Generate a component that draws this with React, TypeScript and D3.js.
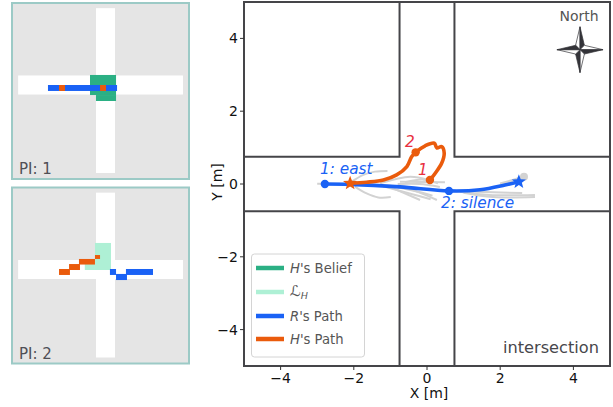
import React from "react";
import * as d3 from "d3";

type P = [number, number];
type R = [number, number, number, number];

const xTicks = [-4, -2, 0, 2, 4];
const yTicks = [-4, -2, 0, 2, 4];
const roadHalf = 0.75;

const robotPath: P[] = [[-2.79, 0], [-2.1, -0.01], [-0.74, -0.08], [0.6, -0.19], [1.45, -0.16], [2.13, -0.03], [2.51, 0.06]];
const robotDots: P[] = [[-2.79, 0], [0.6, -0.19]];
const humanPath: P[] = [[-2.1, 0.02], [-1.65, 0.05], [-1.19, 0.11], [-0.83, 0.25], [-0.55, 0.48], [-0.42, 0.75], [-0.31, 0.87], [-0.05, 1.05], [0.2, 1.12], [0.27, 0.99], [0.4, 1.03], [0.47, 0.85], [0.4, 0.57], [0.22, 0.29], [0.08, 0.11]];
const humanDots: P[] = [[-0.31, 0.87], [0.08, 0.11]];
const greyPaths: P[][] = [
  [[-2.06, 0.06], [-1.74, 0.25], [-1.42, 0.34], [-1.08, 0.36]],
  [[-1.97, -0.07], [-1.65, -0.26], [-1.33, -0.37], [-0.99, -0.36]],
  [[-3.0, 0.01], [-2.1, 0]],
  [[-1.37, -0.03], [-0.55, -0.12], [0.27, -0.44]],
  [[-0.74, 0.06], [0.49, 0.05]],
  [[-0.92, -0.12], [-0.19, -0.44]],
  [[-1.28, 0.02], [-0.46, 0.2], [0.03, 0.11]],
  [[-1.0, -0.05], [-0.3, -0.2], [0.15, -0.32]],
  [[-0.8, 0.0], [-0.2, 0.0], [0.35, -0.08]],
  [[-1.2, -0.06], [-0.4, -0.28], [0.1, -0.42]],
  [[-0.6, 0.05], [-0.1, 0.12], [0.3, 0.02]],
  [[0.9, -0.21], [1.7, -0.3], [2.95, -0.3]],
  [[1.0, -0.24], [1.8, -0.36], [2.95, -0.36]],
  [[0.7, -0.2], [1.6, -0.22], [2.6, -0.25]],
];
const greyEnd: P[] = [[2.0, 0.0], [2.35, 0.1], [2.65, 0.2]];

const panel1Belief: R[] = [[-1.22, 0.83, -0.79, 0.79], [-0.75, 0.83, -1.26, -0.79]];
const panel1Robot: R[] = [[-4.53, 0.91, -0.47, 0]];
const panel1Human: R[] = [[-3.66, -3.19, -0.47, 0], [-0.43, 0.04, -0.47, 0]];
const panel2Level: R[] = [[-0.83, 0.43, -0.04, 2.09], [-1.63, -0.83, -0.04, 0.43]];
const panel2Human: R[] = [[-3.66, -2.8, -0.43, 0.04], [-2.87, -2.01, -0.04, 0.43], [-2.09, -0.83, 0.39, 0.83], [-0.83, -0.43, 0.83, 1.14]];
const panel2Robot: R[] = [[0.35, 0.83, -0.43, 0.04], [0.83, 1.69, -0.83, -0.35], [1.61, 3.74, -0.43, 0.04]];

const GREEN = "#2bb084";
const MINT = "#aef0d5";
const BLUE = "#1a62f5";
const ORANGE = "#ea5b0c";
const RED = "#e8303f";
const DARK = "#454549";
const GREY = "#d2d2d2";
const FONT = "DejaVu Sans";

const x = d3.scaleLinear().domain([-5, 5]).range([244, 610]);
const y = d3.scaleLinear().domain([-5, 5]).range([366, 2]);
const line = d3.line<P>().x(d => x(d[0])).y(d => y(d[1])).curve(d3.curveCatmullRom.alpha(0.5));

const star = d3.line<P>().curve(d3.curveLinearClosed);
function starPath(c: P, r: number): string {
  const pts: P[] = d3.range(10).map(i => {
    const a = -Math.PI / 2 + (i * Math.PI) / 5;
    const rr = i % 2 ? r * 0.42 : r;
    return [x(c[0]) + rr * Math.cos(a), y(c[1]) + rr * Math.sin(a)];
  });
  return star(pts) as string;
}

const compassCentre: P = [4.18, 3.69];
const armLong = 0.63;
const armWaist = 0.12;
const compassDirs: P[] = [[0, 1], [1, 0], [0, -1], [-1, 0]];

function Compass() {
  const c = compassCentre;
  const poly = (pts: P[]) => star(pts.map(p => [x(p[0]), y(p[1])] as P)) as string;
  return (
    <g>
      {compassDirs.map((d, i) => {
        const tip: P = [c[0] + d[0] * armLong, c[1] + d[1] * armLong];
        const side = (s: number): P => [c[0] + (d[0] - s * d[1]) * armWaist, c[1] + (d[1] + s * d[0]) * armWaist];
        return (
          <g key={i}>
            <path d={poly([c, tip, side(1)])} fill="#fff" stroke="#333338" strokeWidth={0.7} />
            <path d={poly([c, tip, side(-1)])} fill="#333338" stroke="#333338" strokeWidth={0.7} />
          </g>
        );
      })}
    </g>
  );
}

function Panel({ top, label, under, over }: { top: number; label: string; under: { rects: R[]; color: string }[]; over: { rects: R[]; color: string }[] }) {
  const height = 176;
  const left = 12;
  const width = 177;
  const unit = 12.7;
  const px = d3.scaleLinear().domain([-1, 1]).range([105.5 - unit, 105.5 + unit]);
  const py = d3.scaleLinear().domain([-1, 1]).range([top + 82 + unit, top + 82 - unit]);
  const rect = (r: R, color: string, k: string) => (
    <rect key={k} x={px(r[0])} width={px(r[1]) - px(r[0])} y={py(r[3])} height={py(r[2]) - py(r[3])} fill={color} />
  );
  return (
    <g>
      <rect x={left} y={top} width={width} height={height} fill="#e5e5e5" stroke="#9ccac6" strokeWidth={2} />
      <rect x={px(-roadHalf)} width={px(roadHalf) - px(-roadHalf)} y={py(6.05)} height={py(-6.93) - py(6.05)} fill="#fff" />
      <rect x={px(-6.88)} width={px(6.1) - px(-6.88)} y={py(roadHalf)} height={py(-roadHalf) - py(roadHalf)} fill="#fff" />
      {under.map((s, i) => s.rects.map((r, j) => rect(r, s.color, `u${i}-${j}`)))}
      {over.map((s, i) => s.rects.map((r, j) => rect(r, s.color, `o${i}-${j}`)))}
      <text x={19} y={top + height - 5} fontFamily={FONT} fontSize={15} fill="#4f4f55">{label}</text>
    </g>
  );
}

const legendY = [268, 292, 316, 339];
const legendColors = [GREEN, MINT, BLUE, ORANGE];

export default function App() {
  const roadCorners: P[][] = [
    [[-5, roadHalf], [-roadHalf, roadHalf], [-roadHalf, 5]],
    [[5, roadHalf], [roadHalf, roadHalf], [roadHalf, 5]],
    [[-5, -roadHalf], [-roadHalf, -roadHalf], [-roadHalf, -5]],
    [[5, -roadHalf], [roadHalf, -roadHalf], [roadHalf, -5]],
  ];
  const straight = d3.line<P>().x(d => x(d[0])).y(d => y(d[1]));
  const tick = (t: number) => d3.format("")(t).replace("-", "\u2212");
  return (
    <svg width={613} height={407} style={{ position: "fixed", left: 0, top: 0 }} fontFamily={FONT}>
      <rect width={613} height={407} fill="#fff" />
      <Panel top={3} label="PI: 1" under={[{ rects: panel1Belief, color: GREEN }]} over={[{ rects: panel1Robot, color: BLUE }, { rects: panel1Human, color: ORANGE }]} />
      <Panel top={187.5} label="PI: 2" under={[{ rects: panel2Level, color: MINT }]} over={[{ rects: panel2Human, color: ORANGE }, { rects: panel2Robot, color: BLUE }]} />

      {roadCorners.map((c, i) => (
        <path key={i} d={straight(c) as string} fill="none" stroke={DARK} strokeWidth={2} />
      ))}
      {greyPaths.map((p, i) => (
        <path key={i} d={line(p) as string} fill="none" stroke={GREY} strokeWidth={2} />
      ))}
      <path d={line(greyEnd) as string} fill="none" stroke={GREY} strokeWidth={3} />
      <circle cx={x(greyEnd[2][0])} cy={y(greyEnd[2][1])} r={4} fill={GREY} />

      <path d={line(robotPath) as string} fill="none" stroke={BLUE} strokeWidth={3.6} />
      {robotDots.map((d, i) => <circle key={i} cx={x(d[0])} cy={y(d[1])} r={4.2} fill={BLUE} />)}
      <path d={starPath(robotPath[robotPath.length - 1], 7.5)} fill={BLUE} />
      <path d={line(humanPath) as string} fill="none" stroke={ORANGE} strokeWidth={3.6} />
      {humanDots.map((d, i) => <circle key={i} cx={x(d[0])} cy={y(d[1])} r={4.2} fill={ORANGE} />)}
      <path d={starPath(humanPath[0], 7.5)} fill={ORANGE} />

      <text x={320} y={174} fontSize={15.3} fontStyle="italic" fill={BLUE}>1: east</text>
      <text x={441} y={208} fontSize={15.3} fontStyle="italic" fill={BLUE}>2: silence</text>
      <text x={405} y={147} fontSize={15.3} fontStyle="italic" fill={RED}>2</text>
      <text x={418} y={175} fontSize={15.3} fontStyle="italic" fill={RED}>1</text>

      <rect x={244} y={2} width={366} height={364} fill="none" stroke={DARK} strokeWidth={2} />
      {xTicks.map(t => (
        <g key={t}>
          <line x1={x(t)} x2={x(t)} y1={366} y2={370} stroke="#333" strokeWidth={1} />
          <text x={x(t)} y={383} textAnchor="middle" fontSize={14} fill="#111">{tick(t)}</text>
        </g>
      ))}
      {yTicks.map(t => (
        <g key={t}>
          <line x1={240} x2={244} y1={y(t)} y2={y(t)} stroke="#333" strokeWidth={1} />
          <text x={238} y={y(t) + 5} textAnchor="end" fontSize={14} fill="#111">{tick(t)}</text>
        </g>
      ))}
      <text x={429} y={398} textAnchor="middle" fontSize={14} fill="#111">X [m]</text>
      <text transform="translate(222,182) rotate(-90)" textAnchor="middle" fontSize={14} fill="#111">Y [m]</text>

      <text x={579} y={21} textAnchor="middle" fontSize={14} fill="#555">North</text>
      <Compass />
      <text x={599} y={353} textAnchor="end" fontSize={16.2} fill="#47474b">intersection</text>

      <rect x={251.5} y={254} width={113} height={103} rx={3} fill="#fff" fillOpacity={0.85} stroke="#d4d4d4" strokeWidth={1} />
      {legendY.map((ly, i) => (
        <line key={i} x1={256} x2={284} y1={ly} y2={ly} stroke={legendColors[i]} strokeWidth={4.5} />
      ))}
      <g fontSize={13.2} fill="#555">
        <text x={290} y={273}><tspan fontStyle="italic">H</tspan>'s Belief</text>
        <text x={290} y={296} fontStyle="italic" fontSize={15}>{"\u2112"}<tspan fontSize={9.5} dy={3}>H</tspan></text>
        <text x={290} y={321}><tspan fontStyle="italic">R</tspan>'s Path</text>
        <text x={290} y={344}><tspan fontStyle="italic">H</tspan>'s Path</text>
      </g>
    </svg>
  );
}
